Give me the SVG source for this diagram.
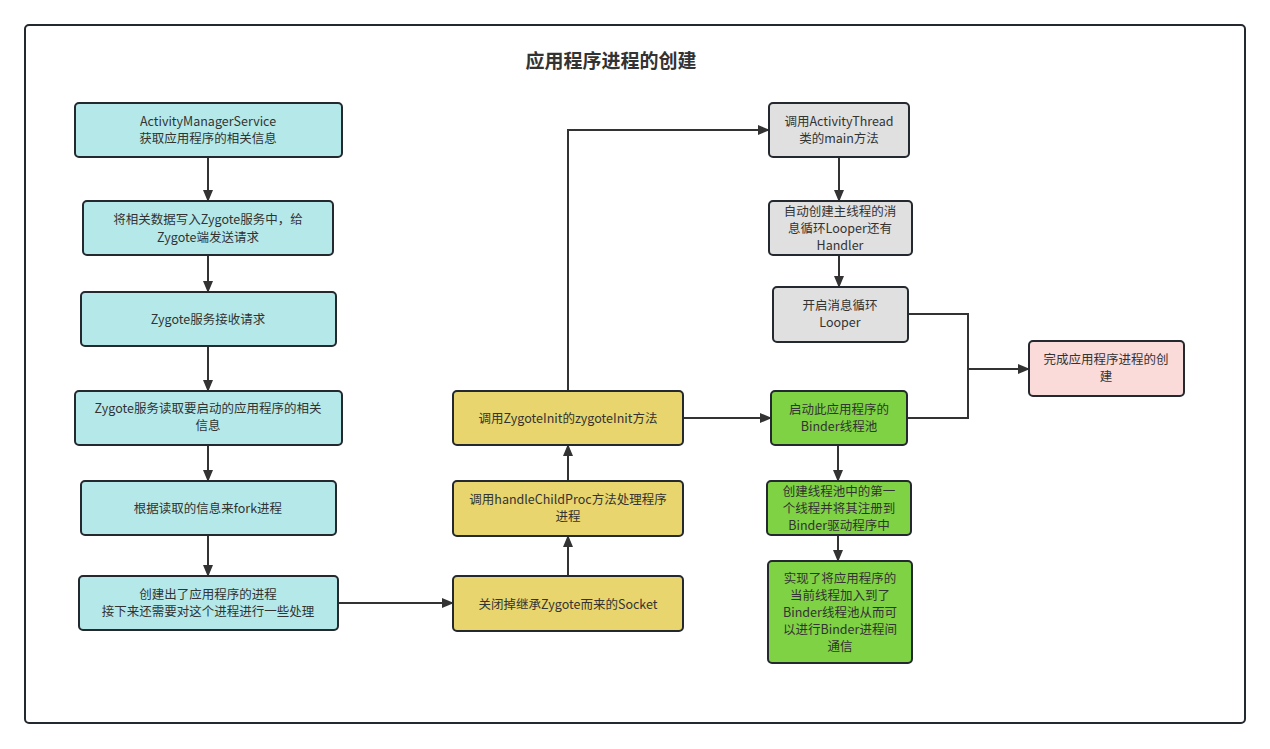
<svg xmlns="http://www.w3.org/2000/svg" width="1270" height="749" viewBox="0 0 1270 749">
<defs>
<marker id="ah" markerWidth="12" markerHeight="12" refX="11" refY="6" orient="auto" markerUnits="userSpaceOnUse">
<path d="M0,1 L12,6 L0,11 Z" fill="#333"/>
</marker>
<style>
.n{stroke:#23292e;stroke-width:2}
.c{fill:#b5e9e9}.y{fill:#e8d56d}.g{fill:#e0e0e0}.gr{fill:#7ed243}.p{fill:#fadbda}
text{font-family:"Noto Sans CJK SC","Microsoft YaHei",sans-serif;font-size:12.5px;fill:#333;text-anchor:middle}
.e{fill:none;stroke:#333;stroke-width:2;marker-end:url(#ah)}
.l{fill:none;stroke:#333;stroke-width:2}
</style>
</defs>
<rect width="1270" height="749" fill="#fff"/>
<rect x="25" y="25" width="1220" height="698" rx="4" fill="#fff" stroke="#23292e" stroke-width="2"/>
<text x="611" y="68" style="font-size:19px;font-weight:bold">应用程序进程的创建</text>

<g id="connectors">
<path class="e" d="M208,157 V201"/>
<path class="e" d="M208,255 V292"/>
<path class="e" d="M208,346 V391"/>
<path class="e" d="M208,445 V481"/>
<path class="e" d="M208,535 V576"/>
<path class="e" d="M338,603 H453"/>
<path class="e" d="M568,576 V536"/>
<path class="e" d="M568,481 V445"/>
<path class="e" d="M568,391 V130 H769"/>
<path class="e" d="M683,418 H771"/>
<path class="e" d="M839,157 V201"/>
<path class="e" d="M839,255 V287"/>
<path class="e" d="M838,445 V481"/>
<path class="e" d="M838,535 V561"/>
<path class="l" d="M908,314 H968 V418 H907"/>
<path class="e" d="M968,369 H1029"/>
</g>

<g id="n1"><rect class="n c" x="75" y="103" width="267" height="54" rx="4"/><text x="208" y="126">ActivityManagerService</text><text x="208" y="143">获取应用程序的相关信息</text></g>
<g id="n2"><rect class="n c" x="83" y="201" width="250" height="54" rx="4"/><text x="208" y="224">将相关数据写入Zygote服务中，给</text><text x="208" y="242">Zygote端发送请求</text></g>
<g id="n3"><rect class="n c" x="81" y="292" width="255" height="54" rx="4"/><text x="208" y="324">Zygote服务接收请求</text></g>
<g id="n4"><rect class="n c" x="75" y="391" width="267" height="54" rx="4"/><text x="208" y="413">Zygote服务读取要启动的应用程序的相关</text><text x="208" y="430">信息</text></g>
<g id="n5"><rect class="n c" x="81" y="481" width="255" height="54" rx="4"/><text x="208" y="513">根据读取的信息来fork进程</text></g>
<g id="n6"><rect class="n c" x="79" y="576" width="259" height="54" rx="4"/><text x="208" y="599">创建出了应用程序的进程</text><text x="208" y="616">接下来还需要对这个进程进行一些处理</text></g>

<g id="y3"><rect class="n y" x="453" y="576" width="230" height="55" rx="4"/><text x="568" y="609">关闭掉继承Zygote而来的Socket</text></g>
<g id="y2"><rect class="n y" x="453" y="481" width="230" height="55" rx="4"/><text x="568" y="504">调用handleChildProc方法处理程序</text><text x="568" y="521">进程</text></g>
<g id="y1"><rect class="n y" x="453" y="391" width="230" height="54" rx="4"/><text x="568" y="423">调用ZygoteInit的zygoteInit方法</text></g>

<g id="g1"><rect class="n g" x="769" y="103" width="140" height="54" rx="4"/><text x="839" y="126">调用ActivityThread</text><text x="839" y="143">类的main方法</text></g>
<g id="g2"><rect class="n g" x="769" y="201" width="143" height="54" rx="4"/><text x="840" y="216">自动创建主线程的消</text><text x="840" y="233">息循环Looper还有</text><text x="840" y="250">Handler</text></g>
<g id="g3"><rect class="n g" x="773" y="287" width="135" height="55" rx="4"/><text x="840" y="310">开启消息循环</text><text x="840" y="327">Looper</text></g>

<g id="gr1"><rect class="n gr" x="771" y="391" width="136" height="54" rx="4"/><text x="839" y="414">启动此应用程序的</text><text x="839" y="431">Binder线程池</text></g>
<g id="gr2"><rect class="n gr" x="767" y="481" width="144" height="54" rx="4"/><text x="839" y="496">创建线程池中的第一</text><text x="839" y="513">个线程并将其注册到</text><text x="839" y="530">Binder驱动程序中</text></g>
<g id="gr3"><rect class="n gr" x="768" y="561" width="144" height="102" rx="4"/><text x="840" y="583">实现了将应用程序的</text><text x="840" y="600">当前线程加入到了</text><text x="840" y="617">Binder线程池从而可</text><text x="840" y="634">以进行Binder进程间</text><text x="840" y="651">通信</text></g>

<g id="p1"><rect class="n p" x="1029" y="341" width="155" height="55" rx="4"/><text x="1106" y="364">完成应用程序进程的创</text><text x="1106" y="381">建</text></g>
</svg>
